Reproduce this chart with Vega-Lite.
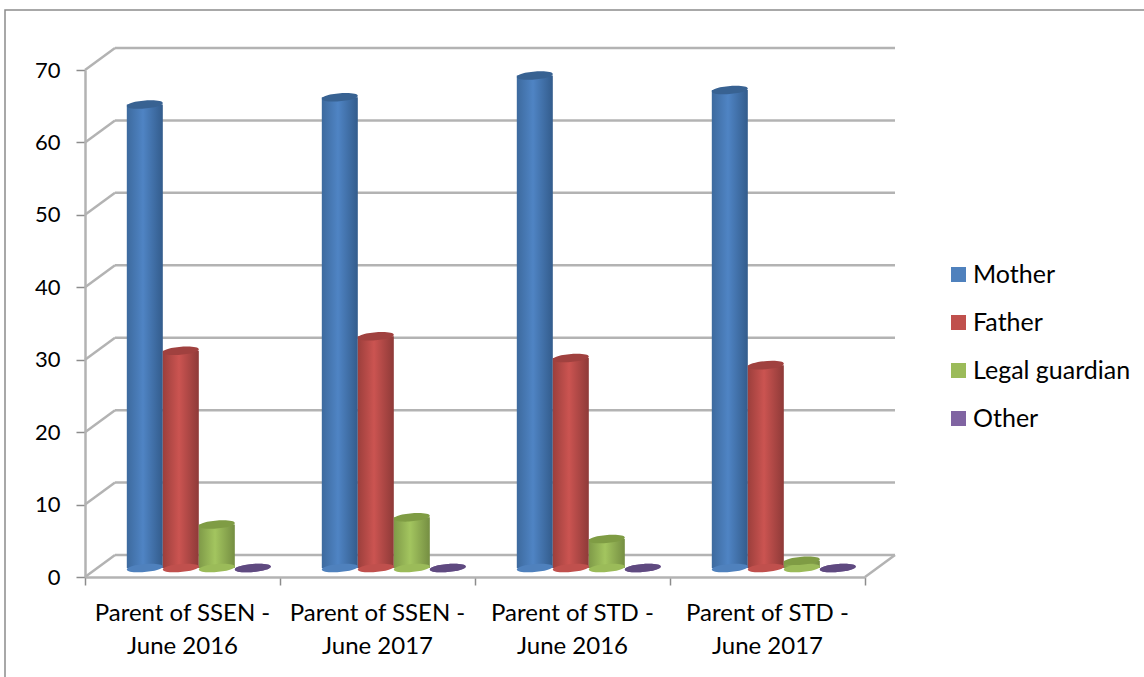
{
"$schema":"https://vega.github.io/schema/vega-lite/v6.json",
"autosize":{"type":"none"},
"padding":{"left":5,"top":10,"right":-2,"bottom":-2},
"width":1141,"height":669,
"background":"white",
"config":{"font":"Lato","view":{"stroke":"#8c8c8c","strokeWidth":1.5}},
"datasets":{
"bars":[
{"group":"Parent of SSEN - June 2016","series":"Mother","value":64},
{"group":"Parent of SSEN - June 2016","series":"Father","value":30},
{"group":"Parent of SSEN - June 2016","series":"Legal guardian","value":6},
{"group":"Parent of SSEN - June 2016","series":"Other","value":0},
{"group":"Parent of SSEN - June 2017","series":"Mother","value":65},
{"group":"Parent of SSEN - June 2017","series":"Father","value":32},
{"group":"Parent of SSEN - June 2017","series":"Legal guardian","value":7},
{"group":"Parent of SSEN - June 2017","series":"Other","value":0},
{"group":"Parent of STD - June 2016","series":"Mother","value":68},
{"group":"Parent of STD - June 2016","series":"Father","value":29},
{"group":"Parent of STD - June 2016","series":"Legal guardian","value":4},
{"group":"Parent of STD - June 2016","series":"Other","value":0},
{"group":"Parent of STD - June 2017","series":"Mother","value":66},
{"group":"Parent of STD - June 2017","series":"Father","value":28},
{"group":"Parent of STD - June 2017","series":"Legal guardian","value":1},
{"group":"Parent of STD - June 2017","series":"Other","value":0}
],
"grid":[{"v":0},{"v":10},{"v":20},{"v":30},{"v":40},{"v":50},{"v":60},{"v":70}]
},
"layer":[
{"data":{"name":"grid"},
 "layer":[
 {"mark":{"type":"rule","color":"#b3b3b3","strokeWidth":2.5,"xOffset":30,"x2Offset":30,"yOffset":-22,"y2Offset":-22},
  "encoding":{
   "x":{"datum":0,"type":"quantitative","scale":{"domain":[0,4],"range":[80,860]},
     "axis":{"orient":"bottom","offset":-102,"values":[0,1,2,3,4],"labels":false,"title":null,"grid":false,"domainColor":"#b3b3b3","domainWidth":2.5,"tickColor":"#8c8c8c","tickWidth":1.5,"tickSize":8}},
   "x2":{"datum":4},
   "y":{"field":"v","type":"quantitative","scale":{"domain":[0,70],"range":[567,60]},
     "axis":{"orient":"left","offset":-80,"values":[0,10,20,30,40,50,60,70],"title":null,"grid":false,"domainColor":"#b3b3b3","domainWidth":2.5,"tickColor":"#8c8c8c","tickWidth":1.5,"tickSize":9,"labelFontSize":22,"labelColor":"#000","labelPadding":16}}
  }},
 {"mark":{"type":"rule","color":"#b3b3b3","strokeWidth":2.5,"x2Offset":30,"y2Offset":-22},
  "encoding":{
   "x":{"datum":0,"type":"quantitative"},
   "x2":{"datum":0},
   "y":{"field":"v","type":"quantitative"},
   "y2":{"field":"v"}
  }},
 {"transform":[{"filter":"datum.v===0"}],
  "mark":{"type":"rule","color":"#b3b3b3","strokeWidth":2.5,"x2Offset":30,"y2Offset":-22},
  "encoding":{
   "x":{"datum":4,"type":"quantitative"},
   "x2":{"datum":4},
   "y":{"field":"v","type":"quantitative"},
   "y2":{"field":"v"}
  }}
 ]},
{"data":{"name":"bars"},
 "encoding":{
  "x":{"field":"group","type":"nominal","sort":null,"scale":{"range":[80,860],"paddingInner":0,"paddingOuter":0},
   "axis":{"orient":"bottom","offset":-102,"title":null,"domain":false,"ticks":false,"labelAngle":0,"labelFontSize":24,"labelColor":"#000","labelPadding":24,"labelLineHeight":33,"labelLimit":300,"labelExpr":"split(replace(datum.label,' - ',' -|'),'|')"}},
  "xOffset":{"field":"series","type":"nominal","sort":null,"scale":{"domain":["Mother","Father","Legal guardian","Other"],"paddingInner":0,"paddingOuter":0.708,"align":0.82}},
  "y":{"field":"value","type":"quantitative"}
 },
 "layer":[
 {"transform":[{"filter":"datum.series==='Mother'"}],
  "mark":{"type":"bar","yOffset":-9,"y2Offset":-9,"color":{"gradient":"linear","x1":0,"y1":0,"x2":1,"y2":0,"stops":[{"offset":0,"color":"#3d6a9e"},{"offset":0.45,"color":"#4f84c4"},{"offset":1,"color":"#335c8c"}]}}},
 {"transform":[{"filter":"datum.series==='Father'"}],
  "mark":{"type":"bar","yOffset":-9,"y2Offset":-9,"color":{"gradient":"linear","x1":0,"y1":0,"x2":1,"y2":0,"stops":[{"offset":0,"color":"#9c3f3c"},{"offset":0.45,"color":"#cb5451"},{"offset":1,"color":"#8e3a38"}]}}},
 {"transform":[{"filter":"datum.series==='Legal guardian'"}],
  "mark":{"type":"bar","yOffset":-9,"y2Offset":-9,"color":{"gradient":"linear","x1":0,"y1":0,"x2":1,"y2":0,"stops":[{"offset":0,"color":"#7f9a48"},{"offset":0.45,"color":"#a3c55f"},{"offset":1,"color":"#758e42"}]}}},
 {"mark":{"type":"point","filled":true,"opacity":1,"size":1296,"yOffset":-9,"shape":"M-1,0.08 C-1,-0.22 1,-0.38 1,-0.08 C1,0.22 -1,0.38 -1,0.08 Z"},
  "encoding":{
   "y":{"datum":0,"type":"quantitative"},
   "color":{"field":"series","type":"nominal","sort":null,
     "scale":{"domain":["Mother","Father","Legal guardian","Other"],"range":["#4f81bd","#c0504d","#9bbb59","#8064a2"]},
     "legend":{"orient":"none","legendX":941,"legendY":252,"title":null,"symbolType":"square","symbolSize":225,"labelFontSize":25,"labelColor":"#000","labelOffset":2,"rowPadding":22,"symbolStrokeWidth":0}}
  }},
 {"mark":{"type":"point","filled":true,"opacity":1,"size":1296,"yOffset":-9,"shape":"M-1,0.08 C-1,-0.22 1,-0.38 1,-0.08 C1,0.22 -1,0.38 -1,0.08 Z"},
  "encoding":{
   "fill":{"field":"series","type":"nominal","sort":null,
     "scale":{"domain":["Mother","Father","Legal guardian","Other"],"range":["#386292","#a0413f","#7f9c44","#5f4a80"]},
     "legend":null}
  }}
 ]}
],
"resolve":{"scale":{"x":"independent"},"axis":{"x":"independent"}}
}
